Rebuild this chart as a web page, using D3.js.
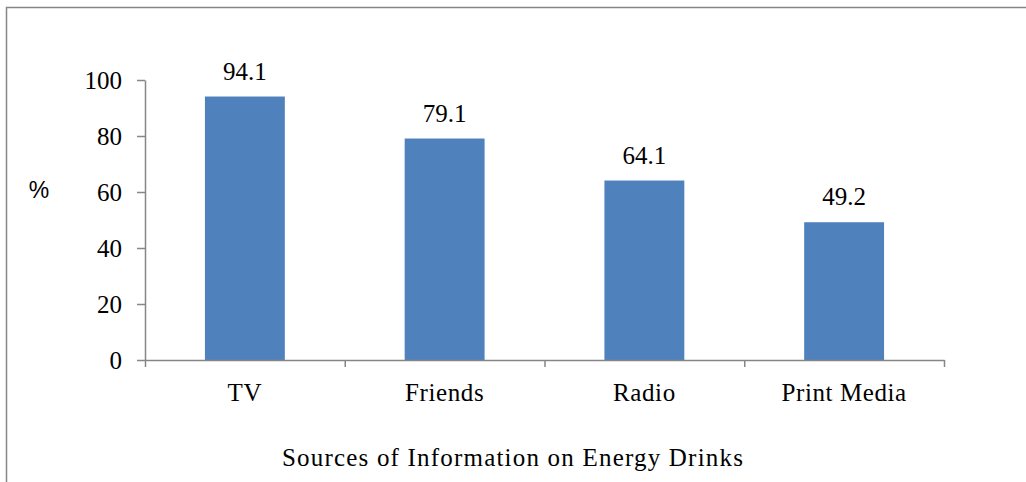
<!DOCTYPE html>
<html><head><meta charset="utf-8">
<script src="https://cdn.jsdelivr.net/npm/d3@7"></script>
<style>body{margin:0;background:#fff}svg{display:block}</style>
</head><body>
<script>
const categories = ["TV", "Friends", "Radio", "Print Media"];
const values = [94.1, 79.1, 64.1, 49.2];
const valueLabels = ["94.1", "79.1", "64.1", "49.2"];
const yTicks = [0, 20, 40, 60, 80, 100];
const xTitle = "Sources of Information on Energy Drinks";
const yTitle = "%";

const W = 1026, H = 482;
const svg = d3.select("body").append("svg").attr("width", W).attr("height", H);

// chart border
svg.append("path").attr("d", "M6.5,482 L6.5,7.5 L1026,7.5")
  .attr("fill", "none").attr("stroke", "#868686").attr("stroke-width", 1.5);

const m = {left: 145, right: 944, top: 80, bottom: 360};
const x = d3.scaleBand().domain(categories).range([m.left, m.right]).paddingInner(0.6).paddingOuter(0.3);
const y = d3.scaleLinear().domain([0, 100]).range([m.bottom, m.top]);
const serif = "'Liberation Serif', 'Times New Roman', serif";
const fs = 25;

svg.selectAll("rect.bar").data(values).enter().append("rect")
  .attr("x", (d, i) => x(categories[i]))
  .attr("y", d => y(d))
  .attr("width", x.bandwidth())
  .attr("height", d => y(0) - y(d))
  .attr("fill", "#4F81BD");

const yAxis = svg.append("g").attr("transform", `translate(${m.left},0)`)
  .call(d3.axisLeft(y).tickValues(yTicks).tickSize(8).tickSizeOuter(0).tickPadding(15));
yAxis.select(".domain").attr("stroke", "#868686").attr("stroke-width", 1.5);
yAxis.selectAll(".tick line").attr("stroke", "#868686").attr("stroke-width", 1.5);
yAxis.selectAll("text").attr("font-family", serif).attr("font-size", fs).attr("fill", "#000");

// x axis line with boundary ticks
const xb = d3.scaleLinear().domain([0, categories.length]).range([m.left, m.right]);
const xAxis = svg.append("g").attr("transform", `translate(0,${m.bottom})`)
  .call(d3.axisBottom(xb).tickValues(d3.range(categories.length + 1)).tickSize(7).tickSizeOuter(0).tickFormat(""));
xAxis.select(".domain").attr("stroke", "#868686").attr("stroke-width", 1.5);
xAxis.selectAll(".tick line").attr("stroke", "#868686").attr("stroke-width", 1.5);

svg.selectAll("text.cat").data(categories).enter().append("text")
  .attr("x", d => x(d) + x.bandwidth() / 2).attr("y", 401)
  .attr("text-anchor", "middle").attr("font-family", serif).attr("font-size", fs)
  .attr("letter-spacing", 0.6)
  .text(d => d);

svg.selectAll("text.val").data(values).enter().append("text")
  .attr("x", (d, i) => x(categories[i]) + x.bandwidth() / 2).attr("y", d => y(d) - 17)
  .attr("text-anchor", "middle").attr("font-family", serif).attr("font-size", fs)
  .text((d, i) => valueLabels[i]);

svg.append("text").attr("x", 513).attr("y", 466).attr("text-anchor", "middle")
  .attr("font-family", serif).attr("font-size", fs).attr("letter-spacing", 1.2).text(xTitle);

svg.append("text").attr("x", 39).attr("y", 198).attr("text-anchor", "middle")
  .attr("font-family", "'Liberation Sans', Arial, sans-serif").attr("font-size", 23).text(yTitle);
</script>
</body></html>
